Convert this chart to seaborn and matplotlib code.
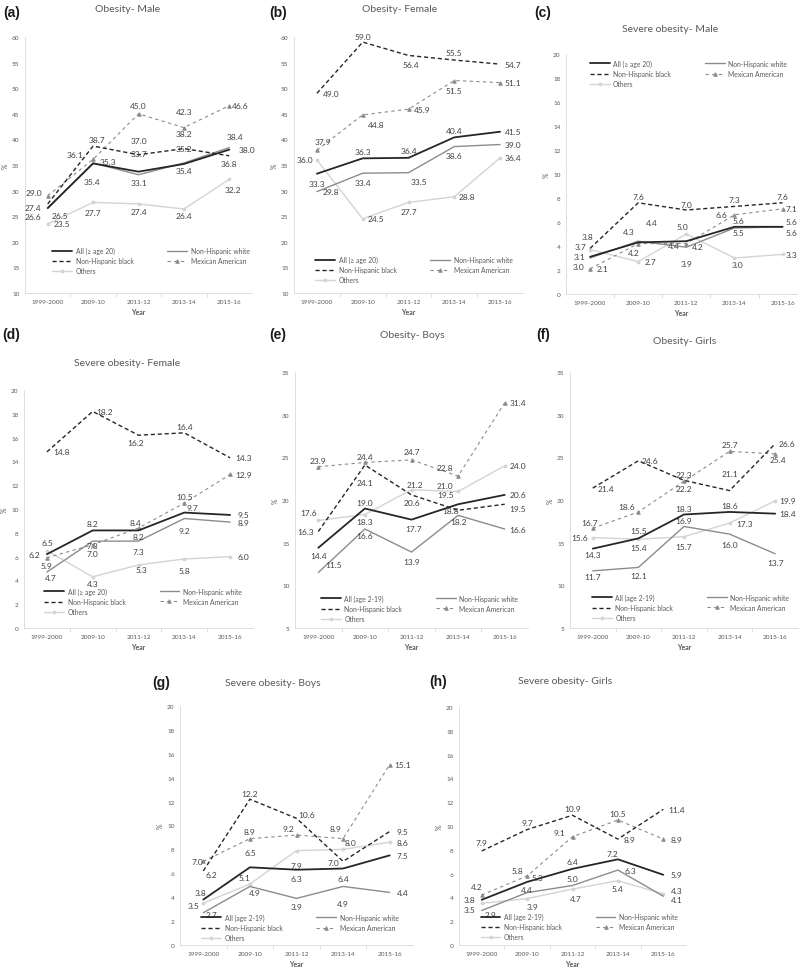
import matplotlib
matplotlib.use("Agg")
import matplotlib.pyplot as plt
import seaborn as sns

years = ["1999-2000", "2009-10", "2011-12", "2013-14", "2015-16"]
groups = ["all", "nhw", "nhb", "mex", "oth"]

# (a) Obesity - Male
a_all = [26.6, 35.3, 33.7, 35.2, 38.0]
a_nhw = [26.5, 35.4, 33.1, 35.4, 38.4]
a_nhb = [27.4, 38.7, 37.0, 38.2, 36.8]
a_mex = [29.0, 36.1, 45.0, 42.3, 46.6]
a_oth = [23.5, 27.7, 27.4, 26.4, 32.2]

# (b) Obesity - Female
b_all = [33.3, 36.3, 36.4, 40.4, 41.5]
b_nhw = [29.8, 33.4, 33.5, 38.6, 39.0]
b_nhb = [49.0, 59.0, 56.4, 55.5, 54.7]
b_mex = [37.9, 44.8, 45.9, 51.5, 51.1]
b_oth = [36.0, 24.5, 27.7, 28.8, 36.4]

# (c) Severe obesity - Male
c_all = [3.1, 4.3, 4.4, 5.6, 5.6]
c_nhw = [3.0, 4.4, 3.9, 5.5, 5.6]
c_nhb = [3.8, 7.6, 7.0, 7.3, 7.6]
c_mex = [2.1, 4.2, 4.2, 6.6, 7.1]
c_oth = [3.7, 2.7, 5.0, 3.0, 3.3]

# (d) Severe obesity - Female
d_all = [6.2, 8.2, 8.2, 9.7, 9.5]
d_nhw = [4.7, 7.3, 7.3, 9.2, 8.9]
d_nhb = [14.8, 18.2, 16.2, 16.4, 14.3]
d_mex = [5.9, 7.0, 8.4, 10.5, 12.9]
d_oth = [6.5, 4.3, 5.3, 5.8, 6.0]

# (e) Obesity - Boys
e_all = [14.4, 19.0, 17.7, 19.5, 20.6]
e_nhw = [11.5, 16.6, 13.9, 18.2, 16.6]
e_nhb = [16.3, 24.1, 20.6, 18.8, 19.5]
e_mex = [23.9, 24.4, 24.7, 22.8, 31.4]
e_oth = [17.6, 18.3, 21.2, 21.0, 24.0]

# (f) Obesity - Girls
f_all = [14.3, 15.5, 18.3, 18.6, 18.4]
f_nhw = [11.7, 12.1, 16.9, 16.0, 13.7]
f_nhb = [21.4, 24.6, 22.3, 21.1, 26.6]
f_mex = [16.7, 18.6, 22.2, 25.7, 25.4]
f_oth = [15.6, 15.4, 15.7, 17.3, 19.9]

# (g) Severe obesity - Boys
g_all = [3.8, 6.5, 6.3, 6.4, 7.5]
g_nhw = [2.7, 4.9, 3.9, 4.9, 4.4]
g_nhb = [6.2, 12.2, 10.6, 7.0, 9.5]
g_mex = [7.0, 8.9, 9.2, 8.9, 15.1]
g_oth = [3.5, 5.1, 7.9, 8.0, 8.6]

# (h) Severe obesity - Girls
h_all = [3.8, 5.3, 6.4, 7.2, 5.9]
h_nhw = [2.9, 4.4, 5.0, 6.3, 4.1]
h_nhb = [7.9, 9.7, 10.9, 8.9, 11.4]
h_mex = [4.2, 5.8, 9.1, 10.5, 8.9]
h_oth = [3.5, 3.9, 4.7, 5.4, 4.3]

adult_all = "All (\u2265 age 20)"
child_all = "All (age 2-19)"
other_names = {"nhw": "Non-Hispanic white", "nhb": "Non-Hispanic black",
               "mex": "Mexican American", "oth": "Others"}

# data-label offsets in pixels (dx right, dy down), per group
a_off = {"all": [(-15, 8), (15, -2), (0, -18), (0, -15), (18, 0)],
         "nhw": [(12, 7), (-1, 19), (0, 8), (0, 8), (6, -11)],
         "nhb": [(-15, 4), (4, -7), (0, -14), (0, -15), (0, 8)],
         "mex": [(-14, -3), (-18, -5), (0, -8), (0, -16), (11, 0)],
         "oth": [(14, 0), (0, 10), (0, 8), (0, 6), (4, 10)]}
b_off = {"all": [(0, 10), (0, -7), (0, -7), (0, -7), (13, 0)],
         "nhw": [(14, 0), (0, 9), (10, 9), (0, 9), (13, 0)],
         "nhb": [(14, 0), (0, -6), (2, 9), (0, -8), (13, 0)],
         "mex": [(6, -9), (13, 10), (14, 0), (0, 10), (13, 0)],
         "oth": [(-12, 0), (13, 0), (0, 9), (13, 0), (13, 0)]}
c_off = {"all": [(-11, 0), (-9, -11), (-13, 4), (4, -6), (9, -5)],
         "nhw": [(-12, 8), (14, -19), (0, 16), (4, 5), (9, 6)],
         "nhb": [(-3, -12), (0, -6), (0, -6), (0, -7), (0, -6)],
         "mex": [(12, 0), (-4, 9), (11, 3), (-13, 0), (9, 0)],
         "oth": [(-10, -3), (12, 0), (-4, -8), (3, 6), (9, 0)]}
d_off = {"all": [(-13, 0), (0, -7), (0, 6), (8, -5), (13, 0)],
         "nhw": [(4, 5), (0, 4), (0, 10), (0, 12), (13, 0)],
         "nhb": [(15, 0), (12, 0), (-3, 7), (0, -6), (13, 0)],
         "mex": [(0, 8), (0, 9), (-3, -6), (0, -7), (13, 0)],
         "oth": [(0, -8), (0, 7), (3, 5), (0, 12), (13, 0)]}
e_off = {"all": [(0, 8), (0, -6), (2, 9), (-13, -10), (13, 0)],
         "nhw": [(15, -8), (0, 6), (0, 9), (0, 6), (13, 0)],
         "nhb": [(-13, 0), (0, 17), (0, 8), (-8, 0), (13, 4)],
         "mex": [(0, -6), (0, -6), (0, -8), (-13, -9), (13, 0)],
         "oth": [(-10, -8), (0, 7), (3, -5), (-13, -6), (13, 0)]}
f_off = {"all": [(0, 6), (0, -8), (0, -6), (0, -6), (12, 0)],
         "nhw": [(0, 6), (0, 8), (0, -6), (0, 10), (0, 9)],
         "nhb": [(13, 0), (12, 0), (0, -6), (0, -17), (12, 0)],
         "mex": [(-3, -6), (-12, -5), (0, 7), (0, -7), (3, 6)],
         "oth": [(-13, 0), (0, 8), (0, 10), (15, 0), (12, 0)]}
g_off = {"all": [(-3, -7), (0, -15), (0, 9), (0, 10), (13, 0)],
         "nhw": [(8, 2), (5, 6), (0, 8), (0, 17), (13, 0)],
         "nhb": [(8, 4), (0, -6), (10, -4), (-10, 1), (13, 0)],
         "mex": [(-6, 0), (0, -7), (-8, -7), (-8, -10), (13, 0)],
         "oth": [(-10, 2), (-5, -7), (0, 15), (7, -7), (13, 0)]}
h_off = {"all": [(-12, 0), (10, -4), (0, -7), (-5, -6), (13, 0)],
         "nhw": [(9, 4), (0, -3), (0, -7), (12, 0), (13, 3)],
         "nhb": [(0, -8), (0, -7), (0, -7), (12, 0), (13, 0)],
         "mex": [(-5, -9), (-10, -5), (-13, -4), (0, -7), (13, 0)],
         "oth": [(-12, 6), (5, 8), (3, 9), (0, 8), (13, -3)]}

LINE = {
    "oth": dict(color="#d4d4d4", linewidth=1.0, marker="o", markersize=2,
                markeredgecolor="#d4d4d4"),
    "mex": dict(color="#8c8c8c", linewidth=0.8, linestyle=(0, (3, 3)), marker="^",
                markersize=2.5, markeredgecolor="#8c8c8c"),
    "nhw": dict(color="#8c8c8c", linewidth=1.0),
    "nhb": dict(color="#262626", linewidth=1.0, linestyle=(0, (3, 2))),
    "all": dict(color="#262626", linewidth=1.3),
}

sns.set_theme(style="white")
plt.rcParams["font.family"] = ["Lato", "DejaVu Sans"]

W, H = 800, 970
fig = plt.figure(figsize=(8, 9.7), dpi=100)


def panel(rect, xmax, ylim, ystep, series, offs, all_label, tag, title,
          tag_xy, title_xy, leg_loc, leg_anchor):
    l, t, r, b = rect
    ax = fig.add_axes([l / W, 1 - b / H, (r - l) / W, (b - t) / H])
    xpos = list(range(len(years)))
    handles = {}
    for g in ["oth", "mex", "nhw", "nhb", "all"]:
        sns.lineplot(x=xpos, y=series[g], ax=ax, sort=False, **LINE[g])
        handles[g] = ax.lines[-1]
        handles[g].set_label(all_label if g == "all" else other_names[g])
        for i, v in enumerate(series[g]):
            dx, dy = offs[g][i]
            ax.annotate(f"{v:.1f}", (i, v), xytext=(dx, -dy), textcoords="offset pixels",
                        ha="center", va="center", fontsize=6, color="#404040")
    ax.set_xlim(-0.5, xmax)
    ax.set_ylim(*ylim)
    ax.set_yticks(range(ylim[0], ylim[1] + 1, ystep))
    ax.set_xticks(xpos)
    ax.set_xticklabels(years)
    ax.set_xticks([0.5, 1.5, 2.5, 3.5], minor=True)
    ax.tick_params(axis="both", which="major", length=0, labelsize=4.6,
                   labelcolor="#595959", pad=4)
    ax.tick_params(axis="x", which="minor", length=3, color="#d9d9d9", width=0.6,
                   bottom=True)
    for s in ["top", "right"]:
        ax.spines[s].set_visible(False)
    for s in ["left", "bottom"]:
        ax.spines[s].set_color("#d9d9d9")
        ax.spines[s].set_linewidth(0.6)
    ax.set_xlabel("Year", fontsize=5, fontweight="bold", color="#595959", labelpad=3)
    ax.set_ylabel("%", fontsize=5, color="#595959", labelpad=2)
    order = ["all", "nhb", "oth", "nhw", "mex"]
    ax.legend([handles[g] for g in order], [handles[g].get_label() for g in order],
              ncol=2, frameon=False, fontsize=4.9, loc=leg_loc, bbox_to_anchor=leg_anchor,
              handlelength=2.9, handletextpad=0.5, columnspacing=5.0, labelspacing=0.45,
              borderpad=0, labelcolor="#595959")
    fig.text(tag_xy[0] / W, 1 - tag_xy[1] / H, tag, fontsize=10, fontweight="bold",
             ha="center", va="center", color="#1a1a1a", family=["Liberation Sans"])
    fig.text(title_xy[0] / W, 1 - title_xy[1] / H, title, fontsize=7.5, ha="center",
             va="center", color="#595959")
    return ax


pan = lambda a, n, bb, m, o: {"all": a, "nhw": n, "nhb": bb, "mex": m, "oth": o}

panel((25, 38, 252, 294), 4.5, (10, 60), 5, pan(a_all, a_nhw, a_nhb, a_mex, a_oth),
      a_off, adult_all, "(a)", "Obesity- Male", (12, 13), (128, 10),
      "lower center", (0.555, 0.06))
panel((294, 38, 523, 294), 4.5, (10, 60), 5, pan(b_all, b_nhw, b_nhb, b_mex, b_oth),
      b_off, adult_all, "(b)", "Obesity- Female", (278, 13), (400, 10),
      "lower center", (0.524, 0.025))
panel((566, 55, 797, 295), 4.3, (0, 20), 2, pan(c_all, c_nhw, c_nhb, c_mex, c_oth),
      c_off, adult_all, "(c)", "Severe obesity- Male", (543, 13), (670, 29),
      "upper center", (0.53, 0.99))
panel((24, 391, 253, 629), 4.5, (0, 20), 2, pan(d_all, d_nhw, d_nhb, d_mex, d_oth),
      d_off, adult_all, "(d)", "Severe obesity- Female", (11, 335), (127, 364),
      "lower center", (0.52, 0.04))
panel((295, 373, 528, 629), 4.5, (5, 35), 5, pan(e_all, e_nhw, e_nhb, e_mex, e_oth),
      e_off, child_all, "(e)", "Obesity- Boys", (278, 335), (412, 335),
      "lower center", (0.536, 0.01))
panel((570, 373, 798, 629), 4.5, (5, 35), 5, pan(f_all, f_nhw, f_nhb, f_mex, f_oth),
      f_off, child_all, "(f)", "Obesity- Girls", (543, 335), (685, 342),
      "lower center", (0.53, 0.014))
panel((180, 707, 413, 946), 4.5, (0, 20), 2, pan(g_all, g_nhw, g_nhb, g_mex, g_oth),
      g_off, child_all, "(g)", "Severe obesity- Boys", (161, 683), (273, 683),
      "lower center", (0.515, 0.002))
panel((459, 708, 686, 946), 4.5, (0, 20), 2, pan(h_all, h_nhw, h_nhb, h_mex, h_oth),
      h_off, child_all, "(h)", "Severe obesity- Girls", (438, 682), (565, 682),
      "lower center", (0.53, 0.006))

fig.savefig("out.png", dpi=100, facecolor="white")
